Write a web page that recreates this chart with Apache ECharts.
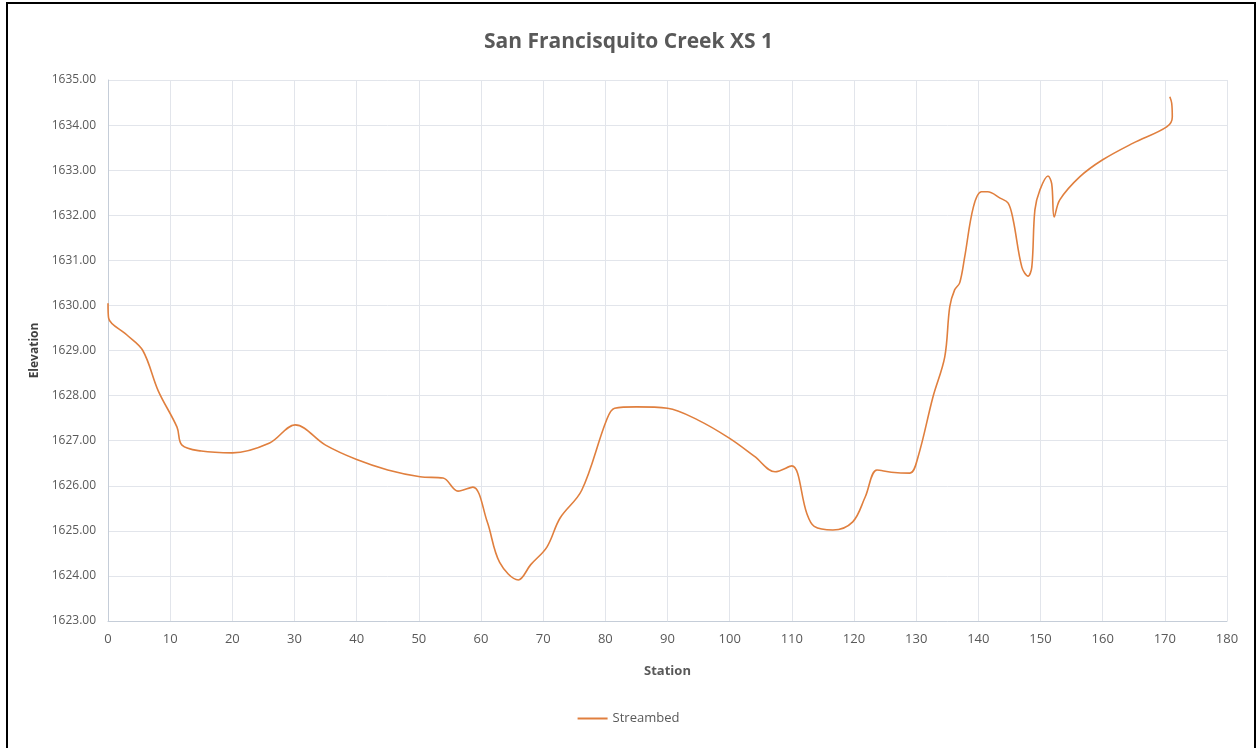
<!DOCTYPE html>
<html>
<head>
	<meta charset="utf-8">
	<title>San Francisquito Creek XS 1</title>
	<script src="https://cdn.jsdelivr.net/npm/echarts@6/dist/echarts.min.js"></script>
	<style>
		html, body { margin: 0; padding: 0; background: #fff; }
		#box_1 { position: absolute; left: 0; top: 0; width: 1257px; height: 748px; }
		.frame { position: absolute; left: 6px; top: 2px; width: 1246px; height: 760px; border: 2px solid #000; pointer-events: none; }
	</style>
</head>
<body>
	<div id="box_1"></div>
	<div class="frame"></div>
<script>
	// station / elevation
	var station = [0, 0.1, 3, 5.6, 8.1, 11.1, 11.9, 15, 20, 26, 30.1, 35, 40, 45, 50.2, 53.9, 56.3, 58.7, 61, 63, 66, 68, 70.6, 72.7, 76.2, 80.2, 81.5, 85, 90, 95, 100, 104, 107.3, 110, 112.4, 113.6, 116.6, 119.8, 121.8, 123.7, 126, 129, 130.3, 132.7, 134.6, 135.4, 136.2, 137.0, 137.8, 139.2, 140.5, 141.5, 143.5, 144.8, 145.6, 147.0, 148.0, 148.6, 149.1, 149.9, 151.2, 151.8, 152.2, 153.1, 156.3, 160, 164.9, 170.3, 171.2, 171.1, 170.8];
	var elevation = [1630.05, 1629.72, 1629.35, 1629.0, 1628.1, 1627.3, 1626.9, 1626.77, 1626.73, 1626.95, 1627.35, 1626.9, 1626.58, 1626.35, 1626.2, 1626.17, 1625.88, 1625.97, 1625.2, 1624.3, 1623.91, 1624.25, 1624.64, 1625.28, 1625.9, 1627.46, 1627.72, 1627.75, 1627.72, 1627.45, 1627.05, 1626.65, 1626.31, 1626.44, 1625.39, 1625.1, 1625.02, 1625.2, 1625.75, 1626.35, 1626.3, 1626.28, 1626.64, 1627.97, 1628.86, 1629.97, 1630.35, 1630.5, 1631.07, 1632.18, 1632.52, 1632.52, 1632.38, 1632.27, 1631.9, 1630.85, 1630.65, 1630.85, 1632.12, 1632.56, 1632.87, 1632.7, 1631.96, 1632.34, 1632.85, 1633.23, 1633.6, 1633.96, 1634.18, 1634.49, 1634.63];

	var pts = [];
	for (var i = 0; i < station.length; i++) {
		pts.push([station[i], elevation[i]]);
	}

	var myChart = echarts.init(document.getElementById('box_1'));
	var font = '"Open Sans", sans-serif';
	var option = {
		animation: false,
		title: {
			text: 'San Francisquito Creek XS 1',
			left: 'center',
			top: 27,
			textStyle: { color: '#595959', fontSize: 21, fontWeight: 'bold', fontFamily: font }
		},
		legend: {
			bottom: 18,
			left: 'center',
			itemWidth: 30,
			itemHeight: 2,
			icon: 'rect',
			data: ['Streambed'],
			textStyle: { color: '#595959', fontSize: 13, fontFamily: font }
		},
		grid: { left: 108, right: 30, top: 80, bottom: 127 },
		xAxis: {
			type: 'value',
			min: 0, max: 180, interval: 10,
			name: 'Station',
			nameLocation: 'middle',
			nameGap: 44,
			nameTextStyle: { color: '#595959', fontSize: 13, fontWeight: 'bold', fontFamily: font },
			axisLine: { show: true, lineStyle: { color: '#c5cdd8' } },
			axisTick: { show: false },
			axisLabel: { color: '#595959', fontSize: 13, margin: 12, fontFamily: font },
			splitLine: { show: true, lineStyle: { color: '#e2e5eb' } }
		},
		yAxis: {
			type: 'value',
			min: 1623, max: 1635, interval: 1,
			name: 'Elevation',
			nameLocation: 'middle',
			nameGap: 66,
			nameTextStyle: { color: '#404040', fontSize: 12, fontWeight: 'bold', fontFamily: font },
			axisLine: { show: true, lineStyle: { color: '#c5cdd8' } },
			axisTick: { show: false },
			axisLabel: {
				color: '#595959', fontSize: 12, margin: 12, fontFamily: font,
				formatter: function (v) { return v.toFixed(2); }
			},
			splitLine: { show: true, lineStyle: { color: '#e2e5eb' } }
		},
		series: [{
			name: 'Streambed',
			type: 'line',
			data: pts,
			smooth: 0.35,
			showSymbol: false,
			color: '#e07f3e',
			lineStyle: { width: 1.6, color: '#e07f3e' }
		}]
	};
	myChart.setOption(option);
</script>
</body>
</html>
